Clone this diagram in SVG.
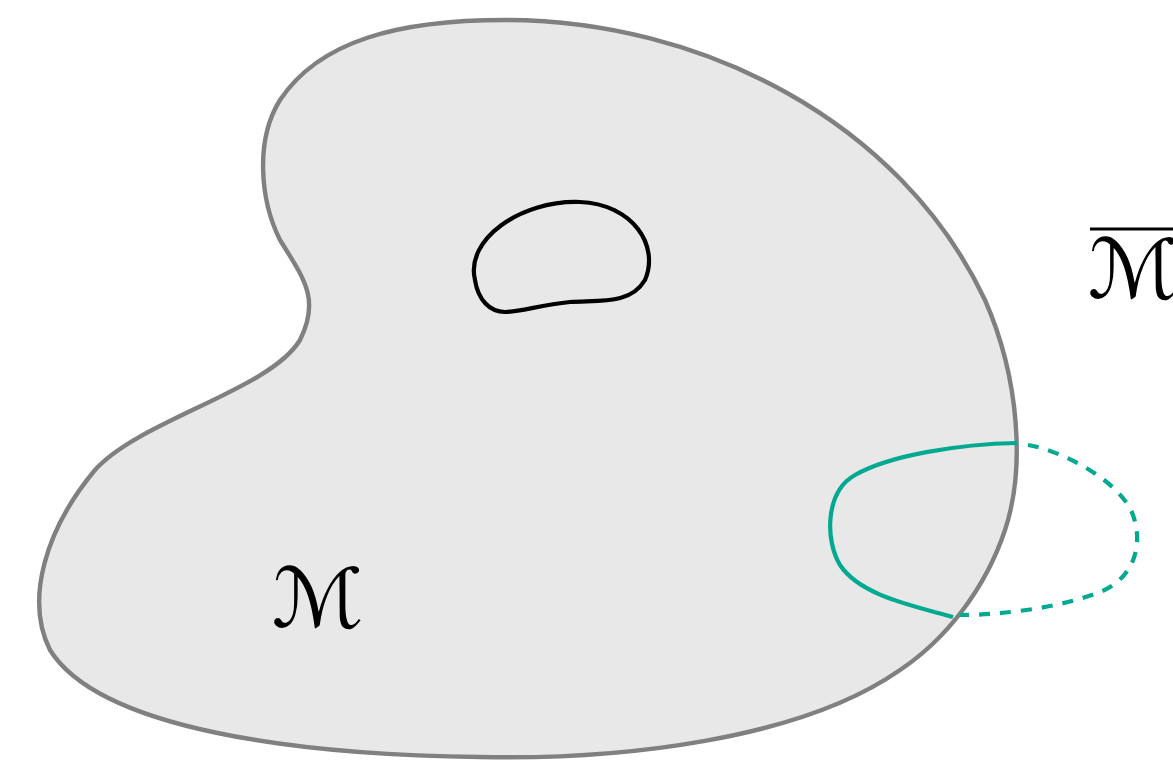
<svg xmlns="http://www.w3.org/2000/svg" width="1173" height="764" viewBox="0 0 1173 764">
<style>
.lbl{font-family:"DejaVu Serif","DejaVu Sans",serif;font-style:italic;font-size:82px;fill:#000}
.teal{fill:none;stroke:#00a98f;stroke-width:4.2;stroke-linecap:butt}
</style>
<rect width="1173" height="764" fill="#fff"/>
<g id="manifold">
<path d="M 505,20 C 700,20 900,120 985,300 C 1020,380 1025,470 1005,530 C 985,590 945,640 900,670 C 800,740 620,760 480,757 C 300,755 100,730 50,650 C 25,600 45,530 95,470 C 140,420 270,390 300,340 C 320,300 305,280 280,240 C 260,200 255,140 280,100 C 320,40 400,20 505,20 Z" fill="#e8e8e8" stroke="#808080" stroke-width="4.4"/>
</g>
<g id="hole">
<path d="M 475,280 C 465,240 520,200 580,202 C 632,204 660,245 645,280 C 630,305 600,300 570,302 C 540,305 520,312 505,312 C 490,312 478,300 475,280 Z" fill="none" stroke="#000" stroke-width="4.2"/>
</g>
<g id="connectors">
<path class="teal" d="M 1017,443 C 960,444 890,455 855,475 C 825,492 825,540 840,565 C 860,595 910,605 953,617"/>
<path class="teal" stroke-dasharray="11 10" d="M 1028,445 C 1060,450 1120,480 1133,515 C 1145,550 1130,580 1100,592 C 1060,608 1000,615 960,615"/>
</g>
<g id="label-M">
<text class="lbl" x="272" y="627" textLength="92" lengthAdjust="spacingAndGlyphs">ℳ</text>
</g>
<g id="label-Mbar">
<line x1="1090" y1="229" x2="1173" y2="229" stroke="#000" stroke-width="3"/>
<text class="lbl" x="1088" y="298" textLength="92" lengthAdjust="spacingAndGlyphs">ℳ</text>
</g>
</svg>
